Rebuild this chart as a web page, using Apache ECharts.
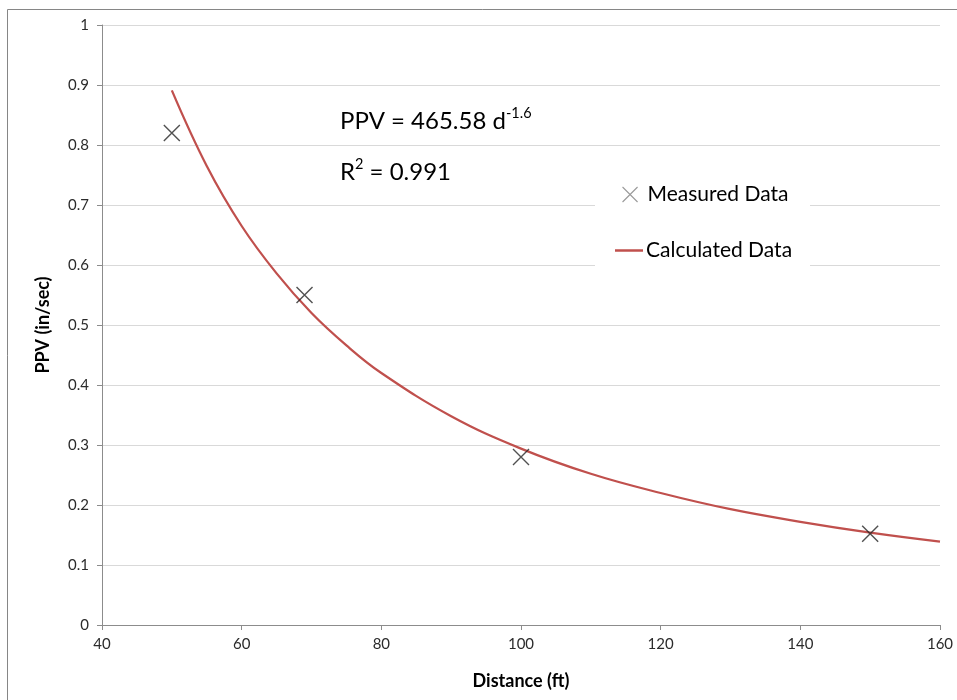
<!DOCTYPE html>
<html>
<head>
<meta charset="utf-8">
<script src="https://cdn.jsdelivr.net/npm/echarts@6/dist/echarts.min.js"></script>
<style>
  html, body { margin: 0; padding: 0; background: #fff; }
  #chart { width: 957px; height: 700px; }
</style>
</head>
<body>
<div id="chart"></div>
<script>
// Measured peak particle velocity vs. distance
const measuredDistance = [50, 69, 100, 150];
const measuredPPV = [0.82, 0.55, 0.28, 0.152];

// Fitted curve points (PPV = 465.58 d^-1.6)
const calcDistance = [50, 55, 60, 65, 70, 75, 80, 90, 100, 110, 120, 130, 140, 150, 160];
const calcPPV = [0.891, 0.765, 0.665, 0.586, 0.520, 0.466, 0.420, 0.348, 0.294, 0.252, 0.220, 0.193, 0.172, 0.154, 0.139];

const FONT = 'Lato, "Open Sans", sans-serif';
const crossPath = 'path://M0,0L10,10M10,0L0,10';

const measured = measuredDistance.map((d, i) => [d, measuredPPV[i]]);
const calculated = calcDistance.map((d, i) => [d, calcPPV[i]]);

// rich-text styles for the fit annotation (base text + superscript)
const annotRich = {
  b: { fontFamily: FONT, fontSize: 24, fill: '#000', lineHeight: 30, verticalAlign: 'middle' },
  s: { fontFamily: FONT, fontSize: 14.5, fill: '#000', lineHeight: 23, verticalAlign: 'top' }
};

const chart = echarts.init(document.getElementById('chart'), null, { renderer: 'canvas' });

chart.setOption({
  animation: false,
  backgroundColor: '#ffffff',
  textStyle: { fontFamily: FONT },
  grid: { left: 102, right: 17, top: 25, bottom: 75 },
  xAxis: {
    type: 'value',
    min: 40, max: 160, interval: 20,
    name: 'Distance (ft)',
    nameLocation: 'middle',
    nameGap: 47,
    nameTextStyle: { fontFamily: FONT, fontSize: 18, fontWeight: 'bold', color: '#000' },
    axisLine: { show: true, onZero: false, lineStyle: { color: '#8c8c8c', width: 1 } },
    axisTick: { show: true, inside: false, length: 5, lineStyle: { color: '#8c8c8c' } },
    axisLabel: { margin: 12, fontSize: 15, color: '#2b2b2b', fontFamily: FONT },
    splitLine: { show: false }
  },
  yAxis: {
    type: 'value',
    min: 0, max: 1, interval: 0.1,
    name: 'PPV (in/sec)',
    nameLocation: 'middle',
    nameGap: 50,
    nameTextStyle: { fontFamily: FONT, fontSize: 18, fontWeight: 'bold', color: '#000' },
    axisLine: { show: true, lineStyle: { color: '#8c8c8c', width: 1 } },
    axisTick: { show: true, inside: false, length: 5, lineStyle: { color: '#8c8c8c' } },
    axisLabel: { margin: 13, fontSize: 15, color: '#2b2b2b', fontFamily: FONT,
      formatter: v => (Math.round(v * 10) / 10).toString() },
    splitLine: { show: true, lineStyle: { color: '#d9d9d9', width: 1 } }
  },
  legend: [
    {
      data: [{ name: 'Measured Data', itemStyle: { borderColor: '#7f7f7f', borderWidth: 1.1 } }],
      left: 617, top: 179,
      itemWidth: 15, itemHeight: 15,
      textStyle: { fontFamily: FONT, fontSize: 21, color: '#000', padding: [0, 0, 0, 5] },
      z: 10
    },
    {
      data: [{ name: 'Calculated Data', icon: 'rect', itemStyle: { color: '#c0504d' } }],
      left: 610, top: 235,
      itemWidth: 28, itemHeight: 2.5,
      textStyle: { fontFamily: FONT, fontSize: 21, color: '#000', padding: [0, 0, 0, -2] },
      z: 10
    }
  ],
  graphic: [
    // frame around the chart area
    {
      type: 'rect', z: 0, silent: true,
      shape: { x: 7.5, y: 9.5, width: 1000, height: 1000 },
      style: { fill: 'none', stroke: '#868686', lineWidth: 1 }
    },
    // white panel behind the legend
    {
      type: 'rect', z: 5, silent: true,
      shape: { x: 595, y: 160, width: 215, height: 108 },
      style: { fill: '#ffffff' }
    },
    {
      type: 'text', z: 6, left: 340, top: 106,
      style: { text: '{b|PPV = 465.58 d}{s|-1.6}', rich: annotRich }
    },
    {
      type: 'text', z: 6, left: 340, top: 157,
      style: { text: '{b|R}{s|2}{b| = 0.991}', rich: annotRich }
    }
  ],
  series: [
    {
      name: 'Calculated Data',
      type: 'line',
      data: calculated,
      smooth: 0.4,
      showSymbol: false,
      symbol: 'none',
      lineStyle: { color: '#c0504d', width: 2.25 },
      itemStyle: { color: '#c0504d' },
      z: 2
    },
    {
      name: 'Measured Data',
      type: 'scatter',
      data: measured,
      symbol: crossPath,
      symbolSize: 16,
      itemStyle: { color: 'rgba(0,0,0,0)', borderColor: '#262626', borderWidth: 1.4 },
      z: 3
    }
  ]
});
</script>
</body>
</html>
